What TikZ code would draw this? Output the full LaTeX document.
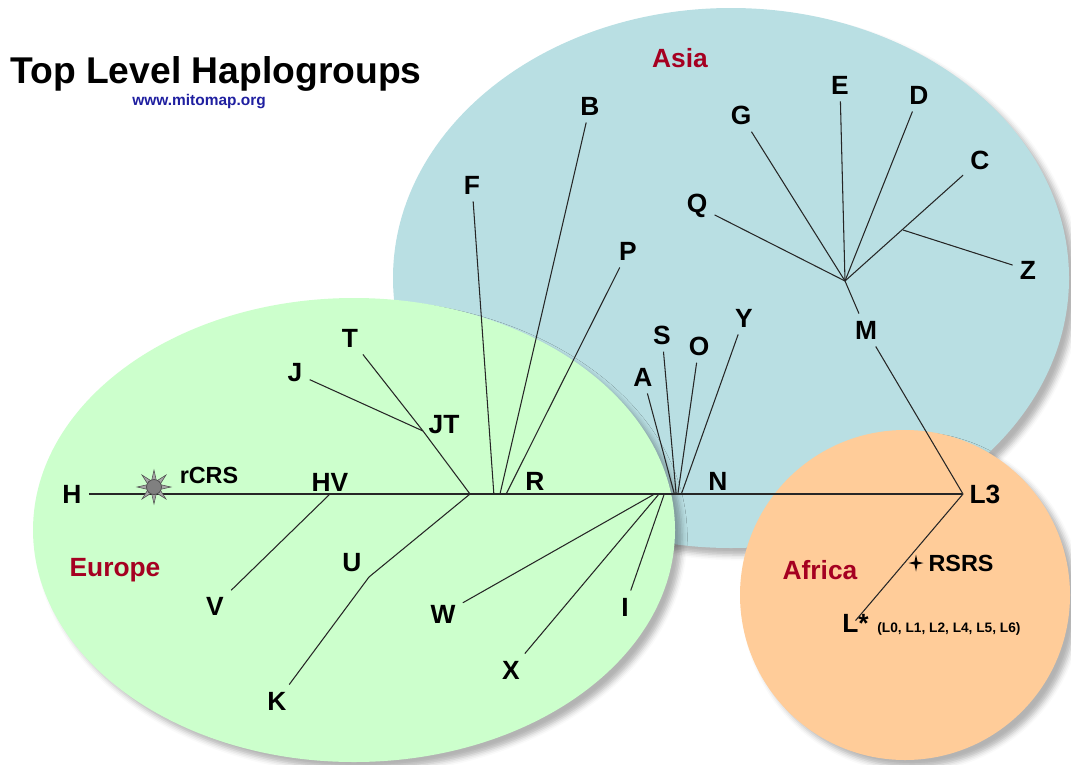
\documentclass[tikz,border=0pt]{standalone}
\usepackage{fontspec}
\setmainfont{Liberation Sans}
\usetikzlibrary{shadows.blur}
\definecolor{asiablue}{RGB}{185,223,227}
\definecolor{eurogreen}{RGB}{204,255,204}
\definecolor{afripeach}{RGB}{255,204,153}
\definecolor{regionred}{RGB}{165,0,33}
\definecolor{urlblue}{RGB}{31,31,160}
\tikzstyle{region} = [blur shadow={shadow xshift=4pt, shadow yshift=-4pt, shadow blur radius=3pt, shadow opacity=30}]
\tikzstyle{hg} = [font=\fontsize{15}{18}\selectfont\bfseries, inner sep=4pt]
\tikzstyle{tag} = [font=\fontsize{13.3}{16}\selectfont\bfseries]
\tikzstyle{place} = [text=regionred, font=\fontsize{15}{18}\selectfont\bfseries]
\tikzstyle{branch} = [line width=0.6pt, draw=black!85]

\begin{document}
\begin{tikzpicture}[x=0.02cm, y=-0.02cm]
        \useasboundingbox (0,0) rectangle (1071,764);
        \path[region, fill=asiablue] (731,278) ellipse [x radius=338, y radius=270];
        \path[region, fill=eurogreen] (354,530) ellipse [x radius=321, y radius=232];
        \path[region, fill=afripeach] (905,595) ellipse [x radius=165, y radius=165];

        \node[anchor=base west, font=\fontsize{21.2}{25}\selectfont\bfseries, inner sep=0pt] (title) at (10,83) {Top Level Haplogroups};
        \node[anchor=base west, text=urlblue, font=\fontsize{8.8}{10}\selectfont\bfseries, inner sep=0pt] (url) at (132,105) {www.mitomap.org};

        \node[place] (asia) at (680,58) {Asia};
        \node[place] (europe) at (115,570) {Europe};
        \node[place] (africa) at (820,570) {Africa};

        \coordinate (hv) at (330,494);
        \coordinate (rt) at (470,494);
        \coordinate (jt) at (423,431);
        \coordinate (u) at (369,577);
        \coordinate (r) at (500,494);
        \coordinate (n) at (677,494);
        \coordinate (nw) at (659,494);
        \coordinate (l3) at (963,494);
        \coordinate (mj) at (845,281);
        \coordinate (cz) at (903,230);

        \node[hg] (H) at (72,494) {H};
        \node[tag] (rCRS) at (209,475) {rCRS};
        \node[hg] (HV) at (330,482) {HV};
        \node[hg] (V) at (215,606) {V};
        \node[hg] (T) at (350,338) {T};
        \node[hg] (J) at (295,373) {J};
        \node[hg] (JT) at (444,425) {JT};
        \node[hg] (U) at (352,563) {U};
        \node[hg] (K) at (277,701) {K};
        \node[hg] (F) at (472,185) {F};
        \node[hg] (B) at (590,106) {B};
        \node[hg] (P) at (628,251) {P};
        \node[hg] (R) at (535,481) {R};
        \node[hg] (A) at (643,377) {A};
        \node[hg] (S) at (662,335) {S};
        \node[hg] (O) at (699,346) {O};
        \node[hg] (Y) at (744,318) {Y};
        \node[hg] (N) at (718,481) {N};
        \node[hg] (W) at (443,614) {W};
        \node[hg] (X) at (511,670) {X};
        \node[hg] (I) at (625,607) {I};
        \node[hg] (L3) at (985,494) {L3};
        \node[hg] (M) at (866,330) {M};
        \node[hg] (Q) at (697,206) {Q};
        \node[hg] (G) at (741,115) {G};
        \node[hg] (E) at (840,85) {E};
        \node[hg] (D) at (919,95) {D};
        \node[hg] (C) at (980,160) {C};
        \node[hg] (Z) at (1028,270) {Z};
        \node[hg, anchor=base west, inner sep=0pt] (Lstar) at (842,632) {L*};
        \node[anchor=base west, font=\fontsize{7.8}{9}\selectfont\bfseries, inner sep=0pt] (Lsub) at (877,632) {(L0, L1, L2, L4, L5, L6)};
        \node[tag] (RSRS) at (961,563) {RSRS};

        \begin{scope}[branch]
            \draw (H) -- (L3);
            \draw (hv) -- (V);
            \draw (rt) -- (jt) -- (T);
            \draw (J) -- (jt);
            \draw (rt) -- (u) -- (K);
            \draw ([xshift=-3.5pt]r) -- (F);
            \draw (r) -- (B);
            \draw ([xshift=3.5pt]r) -- (P);
            \draw ([xshift=-1.5pt]n) -- (A);
            \draw ([xshift=-0.5pt]n) -- (S);
            \draw ([xshift=0.5pt]n) -- (O);
            \draw ([xshift=2.5pt]n) -- (Y);
            \draw ([xshift=-2.5pt]nw) -- (W);
            \draw (nw) -- (X);
            \draw ([xshift=3pt]nw) -- (I);
            \draw (l3) -- (M) -- (mj);
            \draw (mj) -- (Q);
            \draw (mj) -- (G);
            \draw (mj) -- (E);
            \draw (mj) -- (D);
            \draw (mj) -- (C);
            \draw (cz) -- (Z);
            \draw (l3) -- ([yshift=-4pt]Lstar.north);
        \end{scope}

        \begin{scope}[shift={(154,487)}]
            \foreach \a in {0,45,...,315}
                \filldraw[fill=gray!70, draw=black!70, line width=0.3pt] (\a-22:6.5) -- (\a:17) -- (\a+22:6.5) -- cycle;
            \filldraw[fill=gray, draw=black!70, line width=0.4pt] (0,0) circle [radius=7.5];
        \end{scope}
        \begin{scope}[shift={(916,563)}]
            \fill[black] (0,-8.5) -- (1.5,-1.5) -- (7.5,0) -- (1.5,1.5) -- (0,8.5) -- (-1.5,1.5) -- (-7.5,0) -- (-1.5,-1.5) -- cycle;
        \end{scope}
    \end{tikzpicture}
\end{document}
